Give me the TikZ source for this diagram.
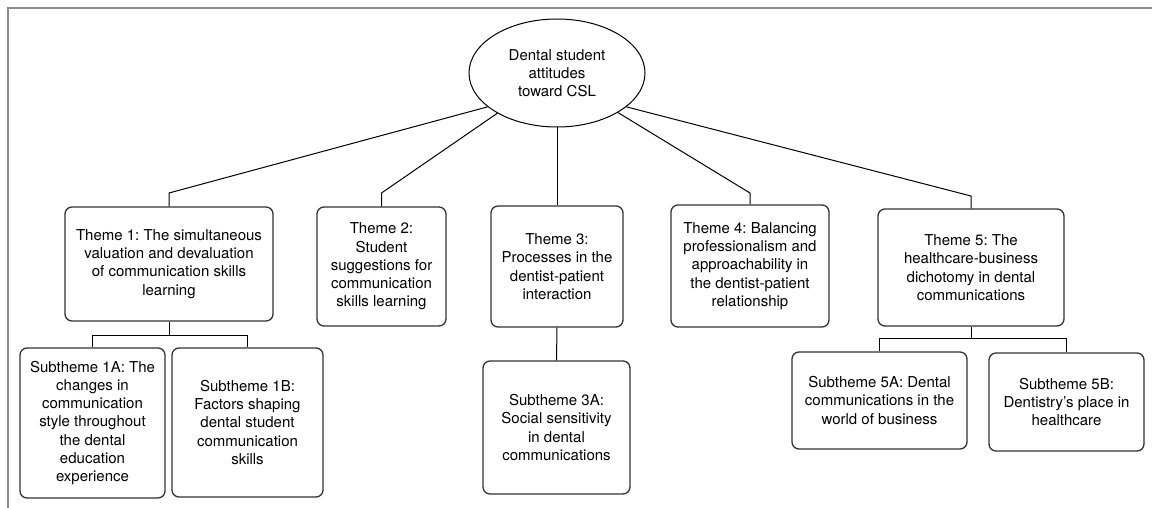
\documentclass[tikz,border=0pt]{standalone}
\usepackage{fontspec}
\setmainfont{TeX Gyre Heros}
\usetikzlibrary{shapes.geometric,calc}
\frenchspacing
\begin{document}
\begin{tikzpicture}[x=1pt,y=-1pt,
  every node/.style={inner sep=0pt,align=center,font=\fontsize{15}{18.3}\selectfont},
  themebox/.style={draw=black!80,line width=1.3pt,rounded corners=7pt},
  link/.style={draw=black,line width=1pt},
  frameline/.style={draw=black!45,line width=1.8pt}]
\useasboundingbox (0,0) rectangle (1152,508);
% outer frame (top and left edges)
\draw[frameline] (8,508) -- (8,8) -- (1152,8);

% central idea
\node[draw=black,line width=1pt,ellipse,minimum width=176pt,minimum height=108pt] (root) at (557,73)
  {Dental student\\attitudes\\toward CSL};

% themes
\node[themebox,minimum width=208pt,minimum height=114pt] (t1) at (169,264)
  {Theme 1: The simultaneous\\valuation and devaluation\\of communication skills\\learning};
\node[themebox,minimum width=129pt,minimum height=119pt] (t2) at (381.5,266.5)
  {Theme 2:\\Student\\suggestions for\\communication\\skills learning};
\node[themebox,minimum width=132pt,minimum height=121pt] (t3) at (557,266.5)
  {Theme 3:\\Processes in the\\dentist-patient\\interaction};
\node[themebox,minimum width=158pt,minimum height=122pt] (t4) at (750,266)
  {Theme 4: Balancing\\professionalism and\\approachability in\\the dentist-patient\\relationship};
\node[themebox,minimum width=186pt,minimum height=117pt] (t5) at (971,267.5)
  {Theme 5: The\\healthcare-business\\dichotomy in dental\\communications};

% subthemes
\node[themebox,minimum width=145pt,minimum height=150pt] (s1a) at (92.5,423)
  {Subtheme 1A: The\\changes in\\communication\\style throughout\\the dental\\education\\experience};
\node[themebox,minimum width=151pt,minimum height=149pt] (s1b) at (247.5,422.5)
  {Subtheme 1B:\\Factors shaping\\dental student\\communication\\skills};
\node[themebox,minimum width=147pt,minimum height=133pt] (s3a) at (556.5,427.5)
  {Subtheme 3A:\\Social sensitivity\\in dental\\communications};
\node[themebox,minimum width=175pt,minimum height=97pt] (s5a) at (879.5,400.5)
  {Subtheme 5A: Dental\\communications in the\\world of business};
\node[themebox,minimum width=155pt,minimum height=98pt] (s5b) at (1066.5,402)
  {Subtheme 5B:\\Dentistry’s place in\\healthcare};

% elbows above the theme boxes
\coordinate (e1) at (t1.north |- 0,193);
\coordinate (e2) at (t2.north |- 0,193);
\coordinate (e4) at (t4.north |- 0,193);
\coordinate (e5) at (t5.north |- 0,196);
% junctions below themes with subthemes
\coordinate (j1) at (t1.south |- 0,335);
\coordinate (j5) at (t5.south |- 0,338);

% connectors from the central idea
\draw[link] (root.206) -- (e1) -- (t1.north);
\draw[link] (root.214) -- (e2) -- (t2.north);
\draw[link] (root.south) -- (t3.north);
\draw[link] (root.327) -- (e4) -- (t4.north);
\draw[link] (root.334) -- (e5) -- (t5.north);

% connectors to subthemes
\draw[link] (t1.south) -- (j1) -| (s1a.north);
\draw[link] (j1) -| (s1b.north);
\draw[link] (t3.south) -- (s3a.north);
\draw[link] (t5.south) -- (j5) -| (s5a.north);
\draw[link] (j5) -| (s5b.north);
\end{tikzpicture}
\end{document}
